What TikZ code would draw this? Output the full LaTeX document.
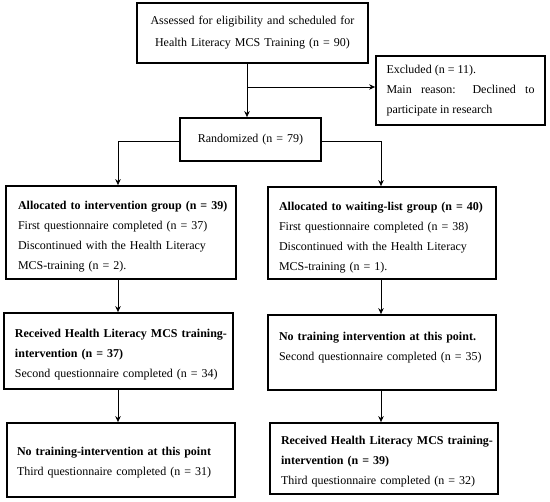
\documentclass[tikz,border=0pt]{standalone}
\usepackage{fontspec}
\setmainfont{Liberation Serif}
\usetikzlibrary{arrows.meta}
\newcommand{\hd}[1]{\mbox{\textbf{#1}}}
\newcommand{\tl}[1]{\mbox{#1}}
\newcommand{\dn}[1]{\rule{0pt}{#1pt}}
\begin{document}
\begin{tikzpicture}[x=1pt,y=-1pt,
  box/.style={draw, line width=1.8pt, inner sep=0pt, align=left,
    font=\fontsize{12}{20}\selectfont},
  arr/.style={line width=0.8pt, -{Stealth[length=6pt,width=5.5pt]}}]
\useasboundingbox (0,0) rectangle (550,502);
\node[box, minimum width=231, minimum height=60, text width=231, align=center,
  font=\fontsize{12}{22}\selectfont] (box1) at (252.5,33)
  {Assessed for eligibility and scheduled for\\Health Literacy MCS Training (n = 90)};
\node[box, minimum width=169, minimum height=69, text width=148, align=justify] (excl) at (460.5,90.5)
  {Excluded (n = 11).\par Main reason: Declined to\linebreak participate in research};
\node[box, minimum width=141, minimum height=43, text width=141, align=center] (rand) at (250.5,139.5)
  {Randomized (n = 79)};
\node[box, minimum width=230, minimum height=93, text width=206] (allocL) at (121,232.5)
  {\dn{17}\hd{Allocated to intervention group (n = 39)}\\\tl{First questionnaire completed (n = 37)}\\\tl{Discontinued with the Health Literacy}\\\tl{MCS-training (n = 2).}};
\node[box, minimum width=228, minimum height=92, text width=206] (allocR) at (382,233)
  {\dn{17}\hd{Allocated to waiting-list group (n = 40)}\\\tl{First questionnaire completed (n = 38)}\\\tl{Discontinued with the Health Literacy}\\\tl{MCS-training (n = 1).}};
\node[box, minimum width=229, minimum height=76, text width=207] (recvL) at (118.5,351)
  {\dn{15}\hd{Received Health Literacy MCS training-}\\\hd{intervention (n = 37)}\\\tl{Second questionnaire completed (n = 34)}};
\node[box, minimum width=228, minimum height=75, text width=206] (notrR) at (382,352.5)
  {\hd{No training intervention at this point.}\\\tl{Second questionnaire completed (n = 35)}\\[-8pt]\mbox{}};
\node[box, minimum width=228, minimum height=74, text width=208] (notrL) at (121,460)
  {\dn{14}\hd{No training-intervention at this point}\\\tl{Third questionnaire completed (n = 31)}};
\node[box, minimum width=228, minimum height=71, text width=206] (recvR) at (384,458.5)
  {\dn{14}\hd{Received Health Literacy MCS training-}\\\hd{intervention (n = 39)}\\\tl{Third questionnaire completed (n = 32)}};
\coordinate (split) at (247,87);
\coordinate (lt) at (118,141);
\coordinate (rt) at (381,141);
\draw[arr] (box1.south -| split) -- (rand.north -| split);
\draw[arr] (split) -- (excl.west |- split);
\draw[arr] (rand.west |- lt) -- (lt) -- (allocL.north -| lt);
\draw[arr] (rand.east |- rt) -- (rt) -- (allocR.north -| rt);
\draw[arr] (allocL.south -| lt) -- (recvL.north -| lt);
\draw[arr] (recvL.south -| lt) -- (notrL.north -| lt);
\draw[arr] (allocR.south -| rt) -- (notrR.north -| rt);
\draw[arr] (notrR.south -| rt) -- (recvR.north -| rt);
\end{tikzpicture}
\end{document}
